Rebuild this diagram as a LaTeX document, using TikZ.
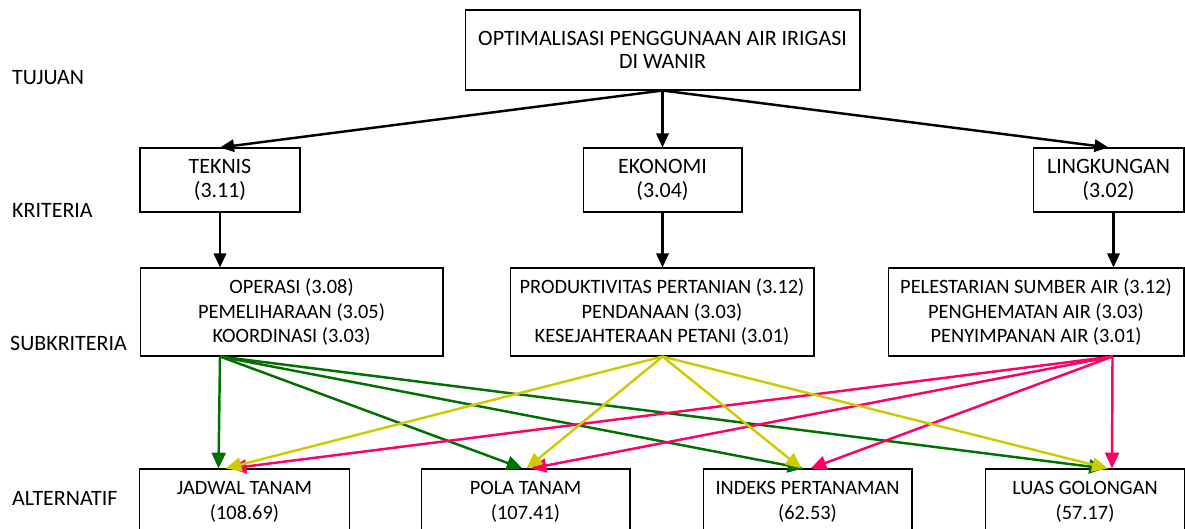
\documentclass[tikz,border=0pt]{standalone}
\usepackage{fontspec}
\setmainfont{Carlito}
\usetikzlibrary{arrows.meta,calc}
\definecolor{hijau}{RGB}{0,112,0}
\definecolor{kuning}{RGB}{204,204,0}
\definecolor{merah}{RGB}{255,0,102}
\tikzset{
  level label/.style={anchor=west,font={\fontsize{12.5}{13.5}\selectfont}},
  kotak/.style={draw,semithick,inner sep=0pt,align=center,
    font={\fontsize{12.5}{13.3}\selectfont}},
  kotak kecil/.style={kotak,font={\fontsize{11.6}{14}\selectfont}},
  panah/.style={line width=1.4pt,-{Triangle[length=8pt,width=7pt]}},
  garis/.style={line width=1.4pt,-{Triangle[length=9pt,width=8pt]}},
}
\begin{document}
\begin{tikzpicture}[x=0.02cm,y=-0.02cm]
\useasboundingbox (0,0) rectangle (1185,528);
% tingkat
\node[level label] (ltujuan) at (6,78) {TUJUAN};
\node[level label] (lkriteria) at (6,210) {KRITERIA};
\node[level label] (lsub) at (4,343) {SUBKRITERIA};
\node[level label] (lalt) at (6,498) {ALTERNATIF};
% tujuan
\node[kotak,minimum width=7.9cm,minimum height=1.6cm] (goal) at (662.5,50)
  {OPTIMALISASI PENGGUNAAN AIR IRIGASI\\DI WANIR};
% kriteria
\node[kotak,minimum width=3.2cm,minimum height=1.28cm] (teknis) at (220,180) {TEKNIS\\(3.11)};
\node[kotak,minimum width=3.18cm,minimum height=1.28cm] (ekonomi) at (662.5,180) {EKONOMI\\(3.04)};
\node[kotak,minimum width=3.02cm,minimum height=1.28cm] (lingkungan) at (1108.5,180) {LINGKUNGAN\\(3.02)};
% subkriteria
\node[kotak kecil,minimum width=6.06cm,minimum height=1.76cm] (sub1) at (291.5,312)
  {OPERASI (3.08)\\PEMELIHARAAN (3.05)\\KOORDINASI (3.03)};
\node[kotak kecil,minimum width=6.08cm,minimum height=1.76cm] (sub2) at (662,312)
  {PRODUKTIVITAS PERTANIAN (3.12)\\PENDANAAN (3.03)\\KESEJAHTERAAN PETANI (3.01)};
\node[kotak kecil,minimum width=5.92cm,minimum height=1.76cm] (sub3) at (1036,312)
  {PELESTARIAN SUMBER AIR (3.12)\\PENGHEMATAN AIR (3.03)\\PENYIMPANAN AIR (3.01)};
% alternatif
\node[kotak kecil,minimum width=4.2cm,minimum height=1.32cm] (jadwal) at (244.5,502) {JADWAL TANAM\\(108.69)};
\node[kotak kecil,minimum width=4.18cm,minimum height=1.32cm] (pola) at (525.5,502) {POLA TANAM\\(107.41)};
\node[kotak kecil,minimum width=4.18cm,minimum height=1.32cm] (indeks) at (807.5,502) {INDEKS PERTANAMAN\\(62.53)};
\node[kotak kecil,minimum width=3.98cm,minimum height=1.32cm] (luas) at (1085,502) {LUAS GOLONGAN\\(57.17)};

% tujuan ke kriteria
\foreach \k in {teknis,ekonomi,lingkungan}
  \draw[panah] (goal.south) -- (\k.north);
% kriteria ke subkriteria
\draw[panah] (teknis.south) -- (teknis.south |- sub1.north);
\draw[panah] (ekonomi.south) -- (ekonomi.south |- sub2.north);
\draw[panah] ($(lingkungan.south)+(5,0)$) -- ($(lingkungan.south |- sub3.north)+(5,0)$);

\coordinate (o1) at (teknis.south |- sub1.south);
\coordinate (o2) at (ekonomi.south |- sub2.south);
\coordinate (o3) at ($(lingkungan.south |- sub3.south)+(4,0)$);

% subkriteria ke alternatif
\foreach \a/\dx in {jadwal/-26,pola/-3,indeks/-4,luas/20}
  \draw[garis,hijau] (o1) -- ($(\a.north)+(\dx,0)$);
\foreach \a/\dx in {jadwal/-14,pola/5,indeks/3,luas/27}
  \draw[garis,merah] (o3) -- ($(\a.north)+(\dx,0)$);
\foreach \a/\dx in {jadwal/-19,pola/1,indeks/-6,luas/23}
  \draw[garis,kuning] (o2) -- ($(\a.north)+(\dx,0)$);
\end{tikzpicture}
\end{document}
